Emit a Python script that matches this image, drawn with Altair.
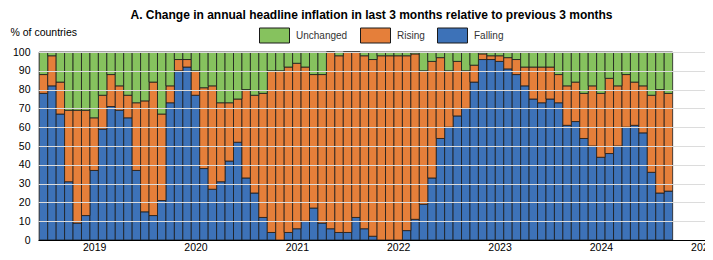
import altair as alt
import pandas as pd

# Monthly data, Jan 2019 .. Mar 2025 (% of countries)
falling = [78, 82, 67, 31, 9, 13, 37, 59, 71, 69, 65, 37,
           15, 13, 21, 73, 90, 92, 77, 38, 27, 31, 42, 52,
           33, 25, 12, 4, 0, 4, 6, 10, 17, 9, 6, 4,
           4, 12, 6, 2, 0, 0, 0, 5, 11, 19, 33, 54,
           60, 66, 70, 84, 96, 96, 95, 91, 88, 82, 75, 73,
           75, 73, 61, 63, 54, 50, 44, 46, 50, 60, 61, 57,
           36, 25, 26]
rising = [10, 16, 17, 38, 60, 56, 28, 18, 17, 13, 12, 36,
          59, 71, 46, 9, 6, 4, 13, 43, 55, 42, 31, 23,
          47, 52, 66, 86, 90, 88, 88, 82, 71, 79, 94, 94,
          96, 88, 92, 94, 98, 98, 98, 93, 88, 71, 62, 43,
          30, 29, 20, 9, 3, 2, 3, 6, 8, 10, 17, 19,
          17, 15, 21, 21, 24, 32, 34, 40, 32, 28, 23, 25,
          41, 55, 52]
unchanged = [12, 2, 16, 31, 31, 31, 35, 23, 12, 18, 23, 27,
             26, 16, 33, 18, 4, 4, 10, 19, 18, 27, 27, 25,
             20, 23, 22, 10, 10, 8, 6, 8, 12, 12, 0, 2,
             0, 0, 2, 4, 2, 2, 2, 2, 1, 10, 5, 3,
             10, 5, 10, 7, 1, 2, 2, 3, 4, 8, 8, 8,
             8, 12, 18, 16, 22, 18, 22, 14, 18, 12, 16, 18,
             23, 20, 22]
categories = ["Unchanged", "Rising", "Falling"]
colors = ["#86c25e", "#e57f3a", "#3d72b8"]
first_year = 2019
year_ticks = [6.5 + 12 * k for k in range(7)]

rows = []
for i, (f, r, u) in enumerate(zip(falling, rising, unchanged)):
    rows.append(dict(m=i, m1=i + 1, cat="Falling", y0=0, y1=f, o=0))
    rows.append(dict(m=i, m1=i + 1, cat="Rising", y0=f, y1=f + r, o=1))
    rows.append(dict(m=i, m1=i + 1, cat="Unchanged", y0=f + r, y1=f + r + u, o=2))
df = pd.DataFrame(rows)

FONT = "Liberation Sans"

chart = alt.Chart(df).mark_bar(stroke="#1a1a1a", strokeWidth=0.8).encode(
    x=alt.X("m:Q",
            scale=alt.Scale(domain=[-0.15, 78.83], nice=False, zero=False),
            axis=alt.Axis(values=year_ticks,
                          labelExpr="'' + (%d + floor(datum.value / 12))" % first_year,
                          title=None, grid=False, ticks=False, labelFlush=False,
                          labelBound=False,
                          domainColor="#000000", domainWidth=1.2,
                          labelFontSize=10.5, labelPadding=2, labelColor="#000000",
                          labelFont=FONT, zindex=1)),
    x2="m1:Q",
    y=alt.Y("y0:Q",
            scale=alt.Scale(domain=[0, 100], nice=False),
            axis=alt.Axis(values=list(range(0, 101, 10)), grid=True,
                          gridColor="#dcdcdc", gridWidth=1, domain=False, ticks=False,
                          labelFontSize=10.5, labelPadding=8, labelColor="#000000",
                          labelFont=FONT,
                          title="% of countries", titleAngle=0, titleX=-28, titleY=-20,
                          titleAlign="left", titleBaseline="middle",
                          titleFontWeight="normal", titleFontSize=10.5,
                          titleFont=FONT, titleColor="#000000", zindex=1)),
    y2="y1:Q",
    color=alt.Color("cat:N",
                    scale=alt.Scale(domain=categories, range=colors),
                    legend=alt.Legend(title=None, orient="none", direction="horizontal",
                                      legendX=221, legendY=-32,
                                      symbolType="M-1,-0.5H1V0.5H-1Z", symbolSize=900,
                                      symbolStrokeColor="#1a1a1a", symbolStrokeWidth=1,
                                      symbolOpacity=1,
                                      labelFontSize=10, labelFont=FONT, labelColor="#333333",
                                      labelOffset=6, columnPadding=10, padding=0)),
    order=alt.Order("o:Q"),
).properties(
    width=667, height=188,
    title=alt.Title("A. Change in annual headline inflation in last 3 months relative to previous 3 months",
                    fontSize=12, fontWeight="bold", font=FONT, color="#000000",
                    anchor="middle", frame="group", offset=0, dy=2),
    autosize=alt.AutoSizeParams(type="none"),
    padding={"left": 30, "top": 44, "right": 0, "bottom": 12},
).configure_view(stroke=None).configure(background="white")

chart.save("out.html", embed_options={"renderer": "svg", "actions": False})
